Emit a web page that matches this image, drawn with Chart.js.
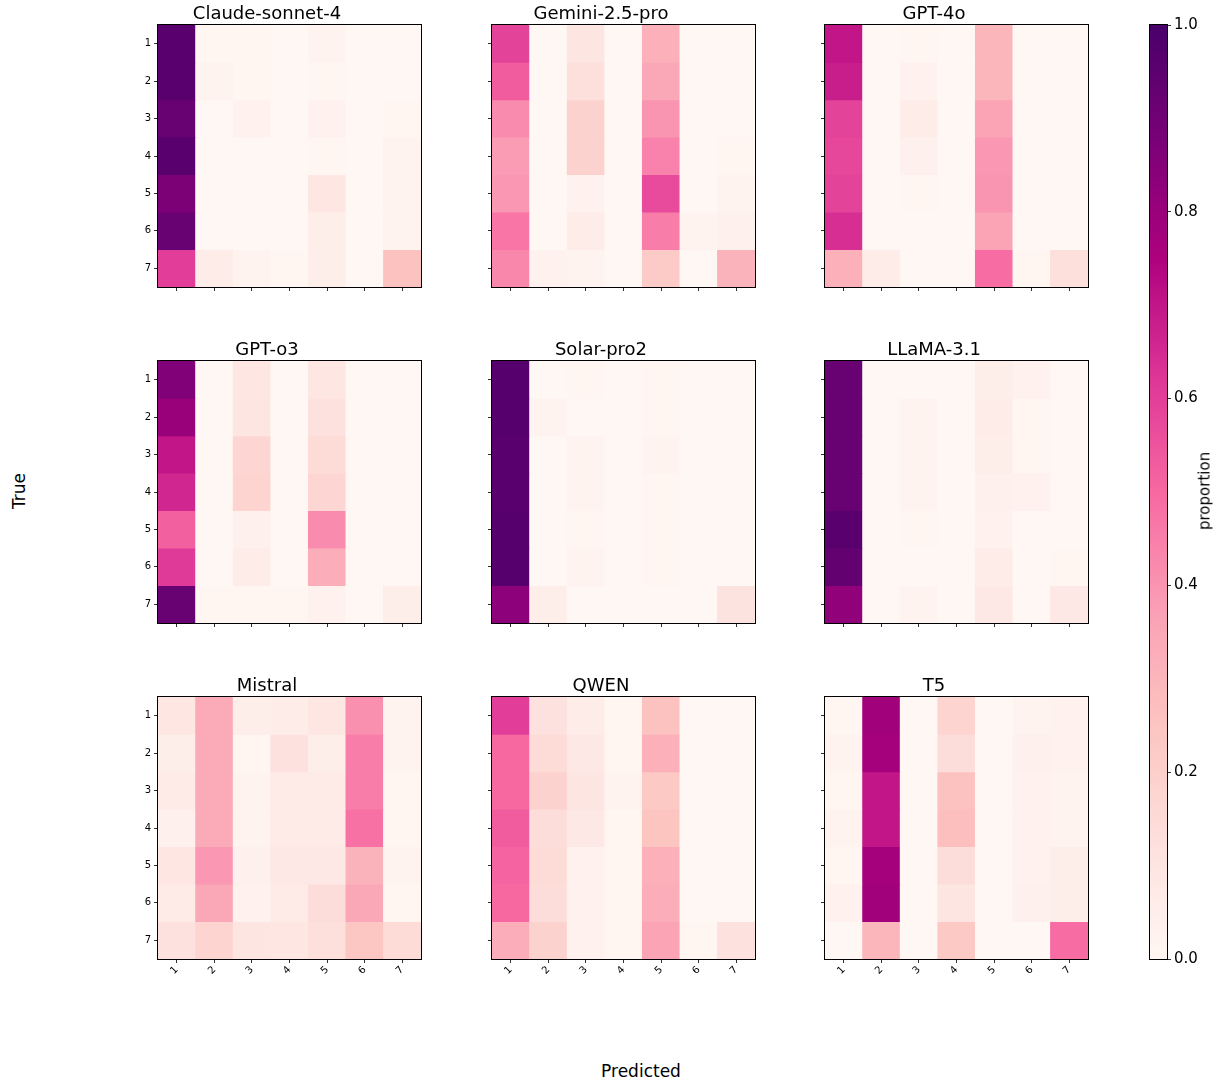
<!DOCTYPE html>
<html><head><meta charset="utf-8">
<script src="https://cdn.jsdelivr.net/npm/chart.js@4.4.1/dist/chart.umd.min.js"></script>
<style>
html,body{margin:0;padding:0;background:#fff;overflow:hidden}
#wrap{position:relative;width:1221px;height:1084px;background:#fff}
#wrap canvas{position:absolute}
.lbl{position:absolute;font-family:'DejaVu Sans',sans-serif;color:#000;white-space:nowrap;line-height:1}
</style></head><body><div id="wrap"></div>
<script>
// ---------- data ----------
const classLabels = ['1','2','3','4','5','6','7'];
const modelNames = ['Claude-sonnet-4','Gemini-2.5-pro','GPT-4o','GPT-o3','Solar-pro2','LLaMA-3.1','Mistral','QWEN','T5'];

const claudeSonnet4 = [
  [0.96,0.01,0.01,0.00,0.02,0.00,0.00],
  [0.96,0.02,0.01,0.00,0.01,0.00,0.00],
  [0.92,0.00,0.03,0.00,0.03,0.00,0.01],
  [0.96,0.00,0.00,0.00,0.01,0.00,0.02],
  [0.87,0.00,0.00,0.00,0.09,0.00,0.02],
  [0.92,0.00,0.00,0.00,0.05,0.00,0.02],
  [0.60,0.06,0.02,0.01,0.05,0.00,0.26]
];
const gemini25Pro = [
  [0.59,0.00,0.10,0.00,0.32,0.00,0.00],
  [0.53,0.00,0.13,0.00,0.35,0.00,0.00],
  [0.42,0.00,0.19,0.00,0.40,0.00,0.00],
  [0.38,0.00,0.19,0.00,0.44,0.00,0.01],
  [0.39,0.00,0.03,0.00,0.57,0.00,0.02],
  [0.47,0.00,0.06,0.00,0.45,0.02,0.04],
  [0.43,0.03,0.02,0.00,0.22,0.00,0.31]
];
const gpt4o = [
  [0.70,0.00,0.01,0.00,0.30,0.00,0.00],
  [0.68,0.00,0.03,0.00,0.30,0.00,0.00],
  [0.59,0.00,0.06,0.00,0.36,0.00,0.00],
  [0.58,0.00,0.04,0.00,0.39,0.00,0.00],
  [0.59,0.00,0.01,0.00,0.40,0.00,0.00],
  [0.64,0.00,0.00,0.00,0.36,0.00,0.00],
  [0.32,0.06,0.00,0.00,0.49,0.01,0.13]
];
const gptO3 = [
  [0.86,0.00,0.09,0.00,0.09,0.00,0.00],
  [0.80,0.00,0.10,0.00,0.12,0.00,0.00],
  [0.70,0.00,0.17,0.00,0.15,0.00,0.00],
  [0.66,0.00,0.18,0.00,0.17,0.00,0.00],
  [0.52,0.00,0.04,0.00,0.42,0.00,0.00],
  [0.61,0.00,0.06,0.00,0.33,0.00,0.00],
  [0.92,0.01,0.01,0.01,0.03,0.00,0.05]
];
const solarPro2 = [
  [0.97,0.00,0.01,0.00,0.01,0.00,0.00],
  [0.97,0.02,0.00,0.00,0.01,0.00,0.00],
  [0.96,0.00,0.02,0.00,0.02,0.00,0.00],
  [0.96,0.00,0.02,0.00,0.01,0.00,0.00],
  [0.97,0.00,0.01,0.00,0.01,0.00,0.00],
  [0.97,0.00,0.02,0.00,0.01,0.00,0.00],
  [0.83,0.05,0.00,0.00,0.00,0.00,0.11]
];
const llama31 = [
  [0.92,0.00,0.00,0.00,0.05,0.03,0.00],
  [0.92,0.00,0.02,0.00,0.06,0.01,0.00],
  [0.92,0.00,0.02,0.00,0.05,0.01,0.00],
  [0.92,0.00,0.02,0.00,0.04,0.03,0.00],
  [0.96,0.00,0.01,0.00,0.03,0.00,0.00],
  [0.93,0.00,0.00,0.00,0.06,0.00,0.01],
  [0.82,0.00,0.02,0.00,0.08,0.00,0.08]
];
const mistral = [
  [0.09,0.34,0.05,0.06,0.09,0.41,0.02],
  [0.05,0.34,0.01,0.12,0.05,0.45,0.02],
  [0.07,0.34,0.02,0.07,0.07,0.45,0.01],
  [0.04,0.34,0.02,0.07,0.07,0.48,0.01],
  [0.09,0.39,0.04,0.08,0.08,0.31,0.02],
  [0.07,0.35,0.03,0.07,0.14,0.35,0.01],
  [0.12,0.18,0.10,0.09,0.13,0.24,0.15]
];
const qwen = [
  [0.60,0.12,0.06,0.01,0.26,0.00,0.00],
  [0.50,0.15,0.08,0.01,0.32,0.00,0.00],
  [0.50,0.19,0.10,0.02,0.23,0.00,0.00],
  [0.53,0.14,0.08,0.01,0.25,0.00,0.00],
  [0.51,0.15,0.03,0.01,0.32,0.00,0.00],
  [0.50,0.14,0.03,0.01,0.33,0.00,0.00],
  [0.33,0.19,0.03,0.01,0.36,0.01,0.12]
];
const t5 = [
  [0.01,0.78,0.00,0.18,0.00,0.02,0.03],
  [0.02,0.77,0.00,0.14,0.00,0.04,0.03],
  [0.01,0.70,0.00,0.26,0.00,0.03,0.02],
  [0.02,0.70,0.00,0.27,0.00,0.03,0.02],
  [0.01,0.77,0.00,0.14,0.00,0.03,0.05],
  [0.03,0.78,0.00,0.10,0.00,0.04,0.05],
  [0.00,0.30,0.00,0.23,0.00,0.00,0.49]
];
const colorbarTicks = [0.0,0.2,0.4,0.6,0.8,1.0];
const colorbarRange = [0,1];

// ---------- colormap (RdPu) ----------
const rdpuStops = ['#fff7f3','#fde0dd','#fcc5c0','#fa9fb5','#f768a1','#dd3497','#ae017e','#7a0177','#49006a'];
const rdpuRGB = rdpuStops.map(h => [parseInt(h.slice(1,3),16),parseInt(h.slice(3,5),16),parseInt(h.slice(5,7),16)]);
function cmap(v){
  v = Math.max(0, Math.min(1, v));
  const p = v * (rdpuRGB.length - 1);
  const i = Math.min(Math.floor(p), rdpuRGB.length - 2);
  const t = p - i;
  const a = rdpuRGB[i], b = rdpuRGB[i+1];
  return 'rgb(' + [0,1,2].map(k => Math.round(a[k] + (b[k]-a[k])*t)).join(',') + ')';
}

Chart.defaults.font.family = "'DejaVu Sans', sans-serif";
Chart.defaults.color = '#000';

const wrap = document.getElementById('wrap');
const matrices = [claudeSonnet4, gemini25Pro, gpt4o, gptO3, solarPro2, llama31, mistral, qwen, t5];

const frame = {
  id: 'frame',
  afterDraw(chart){
    const {ctx, chartArea:a} = chart;
    ctx.save();
    ctx.strokeStyle = '#000';
    ctx.lineWidth = 1;
    ctx.strokeRect(Math.round(a.left)-0.5, Math.round(a.top)-0.5, Math.round(a.right-a.left)+1, Math.round(a.bottom-a.top)+1);
    ctx.restore();
  }
};

const panelLefts = [158, 492, 825];
const panelTops = [25, 361, 697];
const PW = 263, PH = 262;
const AXW = 45, TITLEH = 30, XAXH = 35, PADR = 6;

function makeCanvas(left, top, w, h){
  const c = document.createElement('canvas');
  c.width = w; c.height = h;
  c.style.left = left + 'px'; c.style.top = top + 'px';
  c.style.width = w + 'px'; c.style.height = h + 'px';
  wrap.appendChild(c);
  return c;
}

matrices.forEach((matrix, k) => {
  const r = Math.floor(k / 3), c = k % 3;
  const isLeft = c === 0, isBottom = r === 2;
  const w = AXW + PW + PADR, h = TITLEH + PH + XAXH;
  const cv = makeCanvas(panelLefts[c] - AXW, panelTops[r] - TITLEH, w, h);
  const datasets = matrix.map((row, i) => ({
    label: classLabels[i],
    data: row.map(() => [i, i + 1]),
    backgroundColor: row.map(v => cmap(v)),
    borderWidth: 0,
    barPercentage: 1,
    categoryPercentage: 1,
    grouped: false
  }));
  new Chart(cv, {
    type: 'bar',
    data: { labels: classLabels, datasets },
    options: {
      responsive: false, animation: false, devicePixelRatio: 1,
      layout: { padding: { left: 0, right: PADR, top: 0, bottom: 0 } },
      plugins: {
        legend: { display: false }, tooltip: { enabled: false },
        title: { display: true, text: modelNames[k], color: '#000',
          font: { size: 18, weight: 'normal', lineHeight: 1 }, padding: { top: 10, bottom: 2 } }
      },
      scales: {
        x: {
          type: 'category', offset: true,
          grid: { display: true, drawOnChartArea: false, drawTicks: true, tickLength: 4, color: '#000', lineWidth: 0.8, offset: false },
          border: { display: false },
          ticks: { autoSkip: false, minRotation: 45, maxRotation: 45, padding: 1, color: '#000',
            font: { size: 10 }, callback: (v, idx) => isBottom ? classLabels[idx] : '' },
          afterFit: s => { s.height = XAXH; }
        },
        y: {
          type: 'linear', min: 0, max: 7, reverse: true,
          afterBuildTicks: s => { s.ticks = classLabels.map((_, i) => ({ value: i + 0.5 })); },
          grid: { display: true, drawOnChartArea: false, drawTicks: true, tickLength: 4, color: '#000', lineWidth: 0.8 },
          border: { display: false },
          ticks: { autoSkip: false, padding: 3, color: '#000', font: { size: 10 },
            callback: (v, idx) => isLeft ? classLabels[idx] : '' },
          afterFit: s => { s.width = AXW; }
        }
      }
    },
    plugins: [frame]
  });
});

// ---------- colorbar ----------
const CB_LEFT = 1150, CB_TOP = 25, CB_W = 17, CB_H = 934;
const cbPadL = 10, cbPadV = 15, cbAxW = 50;
const cbCanvas = makeCanvas(CB_LEFT - cbPadL, CB_TOP - cbPadV, cbPadL + CB_W + cbAxW, CB_H + 2 * cbPadV);
new Chart(cbCanvas, {
  type: 'bar',
  data: { labels: [''], datasets: [{
    data: [colorbarRange],
    backgroundColor: (ctx) => {
      const a = ctx.chart.chartArea;
      if (!a) return cmap(0.5);
      const g = ctx.chart.ctx.createLinearGradient(0, a.bottom, 0, a.top);
      for (let i = 0; i <= 64; i++) { g.addColorStop(i / 64, cmap(i / 64)); }
      return g;
    },
    borderWidth: 0, barPercentage: 1, categoryPercentage: 1
  }]},
  options: {
    responsive: false, animation: false, devicePixelRatio: 1,
    layout: { padding: { left: cbPadL, right: 0, top: cbPadV, bottom: cbPadV } },
    plugins: { legend: { display: false }, tooltip: { enabled: false } },
    scales: {
      x: { display: false },
      y: {
        position: 'right', min: 0, max: 1,
        afterBuildTicks: s => { s.ticks = colorbarTicks.map(v => ({ value: v })); },
        grid: { display: true, drawOnChartArea: false, drawTicks: true, tickLength: 4, color: '#000', lineWidth: 0.8 },
        border: { display: false },
        ticks: { padding: 3, color: '#000', font: { size: 15 }, callback: v => Number(v).toFixed(1) },
        afterFit: s => { s.width = cbAxW; }
      }
    }
  },
  plugins: [frame]
});

// ---------- figure labels ----------
function addLabel(text, x, y, size, rotate){
  const d = document.createElement('div');
  d.className = 'lbl';
  d.textContent = text;
  d.style.fontSize = size + 'px';
  d.style.left = x + 'px'; d.style.top = y + 'px';
  d.style.transform = 'translate(-50%,-50%)' + (rotate ? ' rotate(-90deg)' : '');
  wrap.appendChild(d);
}
addLabel('True', 19, 491, 17, true);
addLabel('Predicted', 641, 1071, 17, false);
addLabel('proportion', 1205, 491, 15, true);
</script>
</body></html>
